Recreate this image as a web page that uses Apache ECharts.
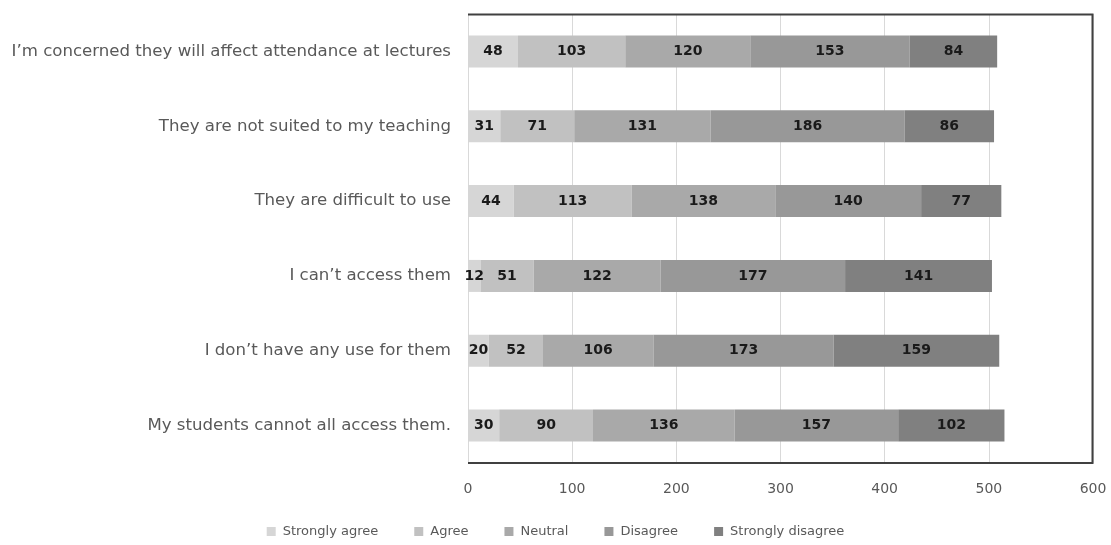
<!DOCTYPE html>
<html>
<head>
<meta charset="utf-8">
<style>
  html, body { margin: 0; padding: 0; background: #fff; }
  #chart { width: 1111px; height: 545px; }
</style>
<script src="https://cdn.jsdelivr.net/npm/echarts@6/dist/echarts.min.js"></script>
</head>
<body>
<div id="chart"></div>
<script>
// Survey reasons, listed top to bottom
const categories = [
  'I\u2019m concerned they will affect attendance at lectures',
  'They are not suited to my teaching',
  'They are difficult to use',
  'I can\u2019t access them',
  'I don\u2019t have any use for them',
  'My students cannot all access them.'
];

const seriesNames = ['Strongly agree', 'Agree', 'Neutral', 'Disagree', 'Strongly disagree'];

const stronglyAgree    = [48, 31, 44, 12, 20, 30];
const agree            = [103, 71, 113, 51, 52, 90];
const neutral          = [120, 131, 138, 122, 106, 136];
const disagree         = [153, 186, 140, 177, 173, 157];
const stronglyDisagree = [84, 86, 77, 141, 159, 102];

const xTicks = [0, 100, 200, 300, 400, 500, 600];

const seriesValues = [stronglyAgree, agree, neutral, disagree, stronglyDisagree];
const colors = ['#d6d6d6', '#c1c1c1', '#a9a9a9', '#989898', '#808080'];

const fontFamily = '"DejaVu Sans", "Open Sans", sans-serif';

const chart = echarts.init(document.getElementById('chart'), null, { renderer: 'canvas' });

chart.setOption({
  animation: false,
  color: colors,
  textStyle: { fontFamily },
  grid: { left: 468, right: 18, top: 14, bottom: 82, containLabel: false },
  legend: {
    bottom: 2,
    left: 'center',
    itemWidth: 9,
    itemHeight: 9,
    itemGap: 36,
    icon: 'rect',
    textStyle: { color: '#595959', fontSize: 13, fontFamily, padding: [0, 0, 0, 2] },
    data: seriesNames
  },
  xAxis: {
    type: 'value',
    min: xTicks[0],
    max: xTicks[xTicks.length - 1],
    interval: 100,
    axisLine: { show: false },
    axisTick: { show: false },
    axisLabel: { color: '#595959', fontSize: 14, margin: 19 },
    splitLine: { show: true, lineStyle: { color: '#d9d9d9', width: 1 } }
  },
  yAxis: {
    type: 'category',
    data: categories,
    inverse: true,
    axisLine: { show: false },
    axisTick: { show: false },
    axisLabel: { color: '#595959', fontSize: 16.6, margin: 17 },
    splitLine: { show: false }
  },
  graphic: [{
    type: 'polyline',
    shape: { points: [[468, 14.5], [1092.5, 14.5], [1092.5, 463], [468, 463]] },
    style: { stroke: '#404040', lineWidth: 2, fill: null },
    silent: true,
    z: 10
  }],
  series: seriesNames.map((name, i) => ({
    name,
    type: 'bar',
    stack: 'total',
    barWidth: 32,
    data: seriesValues[i],
    label: {
      show: true,
      position: 'inside',
      color: '#1a1a1a',
      fontWeight: 'bold',
      fontSize: 14,
      fontFamily
    },
    itemStyle: { color: colors[i] }
  }))
});
</script>
</body>
</html>
